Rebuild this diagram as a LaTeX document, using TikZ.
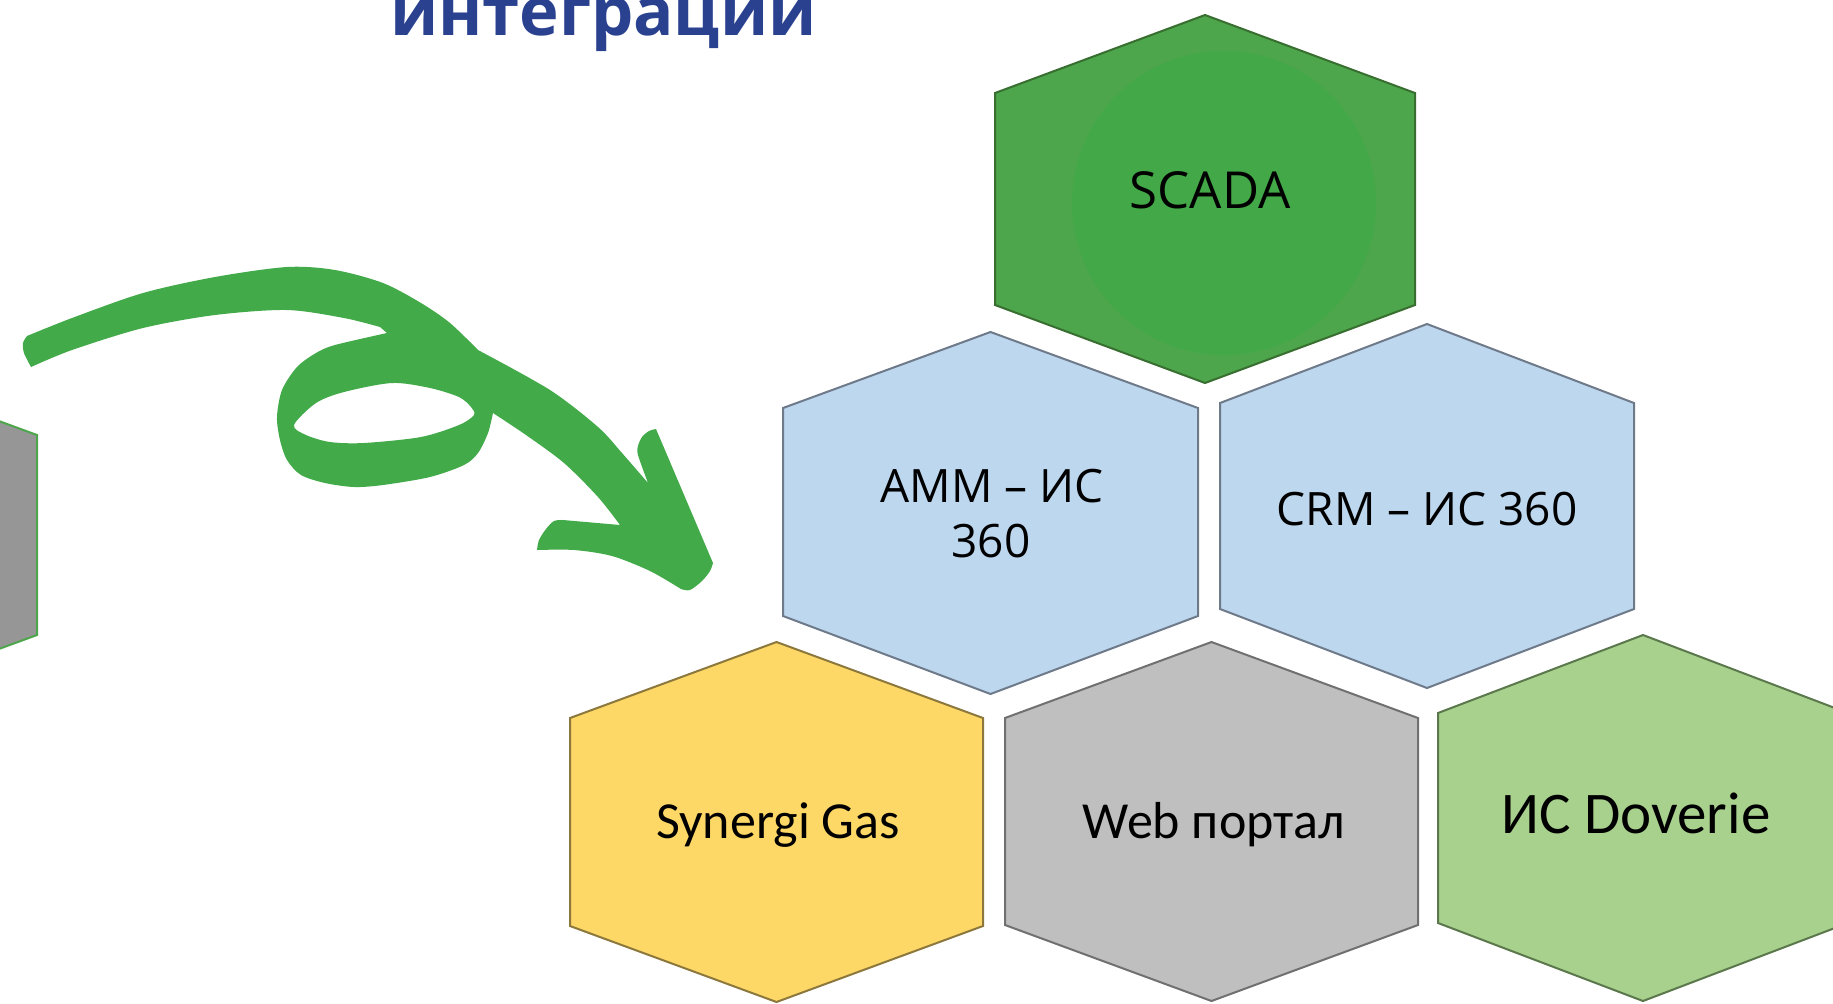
\documentclass[tikz,border=0pt]{standalone}
\usepackage{fontspec}
\setmainfont{Open Sans}
\newfontfamily\carl{Carlito}
\definecolor{scadafill}{RGB}{77,166,76}
\definecolor{scadacirc}{RGB}{67,168,71}
\definecolor{scadaedge}{RGB}{56,110,48}
\definecolor{bluefill}{RGB}{189,215,238}
\definecolor{blueedge}{RGB}{110,122,138}
\definecolor{yelfill}{RGB}{253,216,102}
\definecolor{yeledge}{RGB}{140,120,60}
\definecolor{grayfill}{RGB}{191,191,191}
\definecolor{grayedge}{RGB}{112,112,112}
\definecolor{lgfill}{RGB}{169,209,142}
\definecolor{lgedge}{RGB}{90,120,75}
\definecolor{leftgray}{RGB}{150,150,150}
\definecolor{arrowgreen}{RGB}{67,170,73}
\definecolor{titleblue}{RGB}{41,65,143}
% #1 style, #2 xl, #3 xr, #4 top, #5 s1, #6 s2, #7 bottom
\newcommand{\hexa}[7]{\draw[#1] (#2,#5) -- ({(#2+#3)/2},#4) -- (#3,#5) -- (#3,#6) -- ({(#2+#3)/2},#7) -- (#2,#6) -- cycle;}
\begin{document}
\begin{tikzpicture}[x=0.5pt,y=-0.5pt,
  hexline/.style={line width=1pt, line join=miter},
  scadahex/.style={hexline, fill=scadafill, draw=scadaedge},
  bluehex/.style={hexline, fill=bluefill, draw=blueedge},
  yelhex/.style={hexline, fill=yelfill, draw=yeledge},
  grayhex/.style={hexline, fill=grayfill, draw=grayedge},
  lghex/.style={hexline, fill=lgfill, draw=lgedge},
  lefthex/.style={hexline, fill=leftgray, draw=scadafill},
  lbl/.style={inner sep=0pt, anchor=base, text=black},
  oslbl/.style={lbl, font=\fontsize{23}{28}\selectfont},
  cllbl/.style={lbl, font=\carl\fontsize{26}{31}\selectfont}]
\useasboundingbox (0,0) rectangle (1833,1003);
\clip (0,0) rectangle (1833,1003);
\fill[white] (0,0) rectangle (1833,1003);

% left partial hexagon
\hexa{lefthex}{-377}{37}{359}{435}{635}{711}

% hexagons
\hexa{scadahex}{995}{1415}{15}{93}{305}{383}
\fill[scadacirc] (1224,203) circle[radius=76pt];
\hexa{bluehex}{783}{1198}{332}{408}{616}{694}
\hexa{bluehex}{1220}{1634}{324}{403}{609}{688}
\hexa{yelhex}{570}{983}{642}{718}{926}{1002}
\hexa{grayhex}{1005}{1418}{642}{718}{925}{1001}
\hexa{lghex}{1438}{1848}{635}{713}{923}{1001}

% labels
\node[lbl, font=\fontsize{25.5}{30}\selectfont] (scada) at (1210,208) {SCADA};
\node[oslbl] (amm) at (992,502) {АММ – ИС};
\node[oslbl] (amm2) at (991,557) {360};
\node[oslbl] (crm) at (1427,525) {CRM – ИС 360};
\node[cllbl] (synergi) at (778,838) {Synergi Gas};
\node[cllbl] (web) at (1214,838) {Web портал};
\node[lbl, font=\carl\fontsize{29.5}{35}\selectfont] (doverie) at (1636,833) {ИС Doverie};

% title
\node[inner sep=0pt, anchor=base west, text=titleblue, font=\bfseries\fontsize{33.5}{40}\selectfont] (title) at (390,35) {интеграции};

% hand-drawn arrow
\fill[arrowgreen, even odd rule]
  plot[smooth] coordinates {(31,367) (24,353) (23,343) (27,336)}
  -- plot[smooth] coordinates {(27,336) (72,318) (143,293) (215,277) (287,267) (335,270) (383,283) (421,303) (450,323) (478,350)}
  -- plot[smooth] coordinates {(478,350) (550,390) (598,427) (622,453) (648,483)}
  -- plot[smooth] coordinates {(648,483) (638,455) (638,446) (642,437) (649,431) (656,429)}
  -- (713,563)
  -- plot[smooth] coordinates {(713,563) (710,571) (702,581) (690,590) (681,589)}
  -- plot[smooth] coordinates {(681,589) (650,571) (612,556) (574,550) (537,550)}
  -- plot[smooth] coordinates {(537,550) (539,540) (546,529) (554,521) (563,520)}
  -- (620,525)
  -- plot[smooth] coordinates {(620,525) (598,497) (564,463) (526,435) (493,413)}
  -- plot[smooth] coordinates {(493,413) (488,433) (478,453) (464,465) (430,477) (383,485) (354,487) (325,483) (301,475) (287,460) (280,440) (277,417) (282,390) (297,367) (316,353) (335,345) (387,333)}
  -- plot[smooth] coordinates {(380,327) (344,318) (287,310) (215,315) (143,328) (72,350) (31,367)}
  -- cycle
  plot[smooth cycle] coordinates {(294,425) (316,403) (344,392) (392,383) (430,388) (459,397) (471,407) (474,415) (459,425) (421,437) (364,443) (330,442) (306,435)};
\end{tikzpicture}
\end{document}
